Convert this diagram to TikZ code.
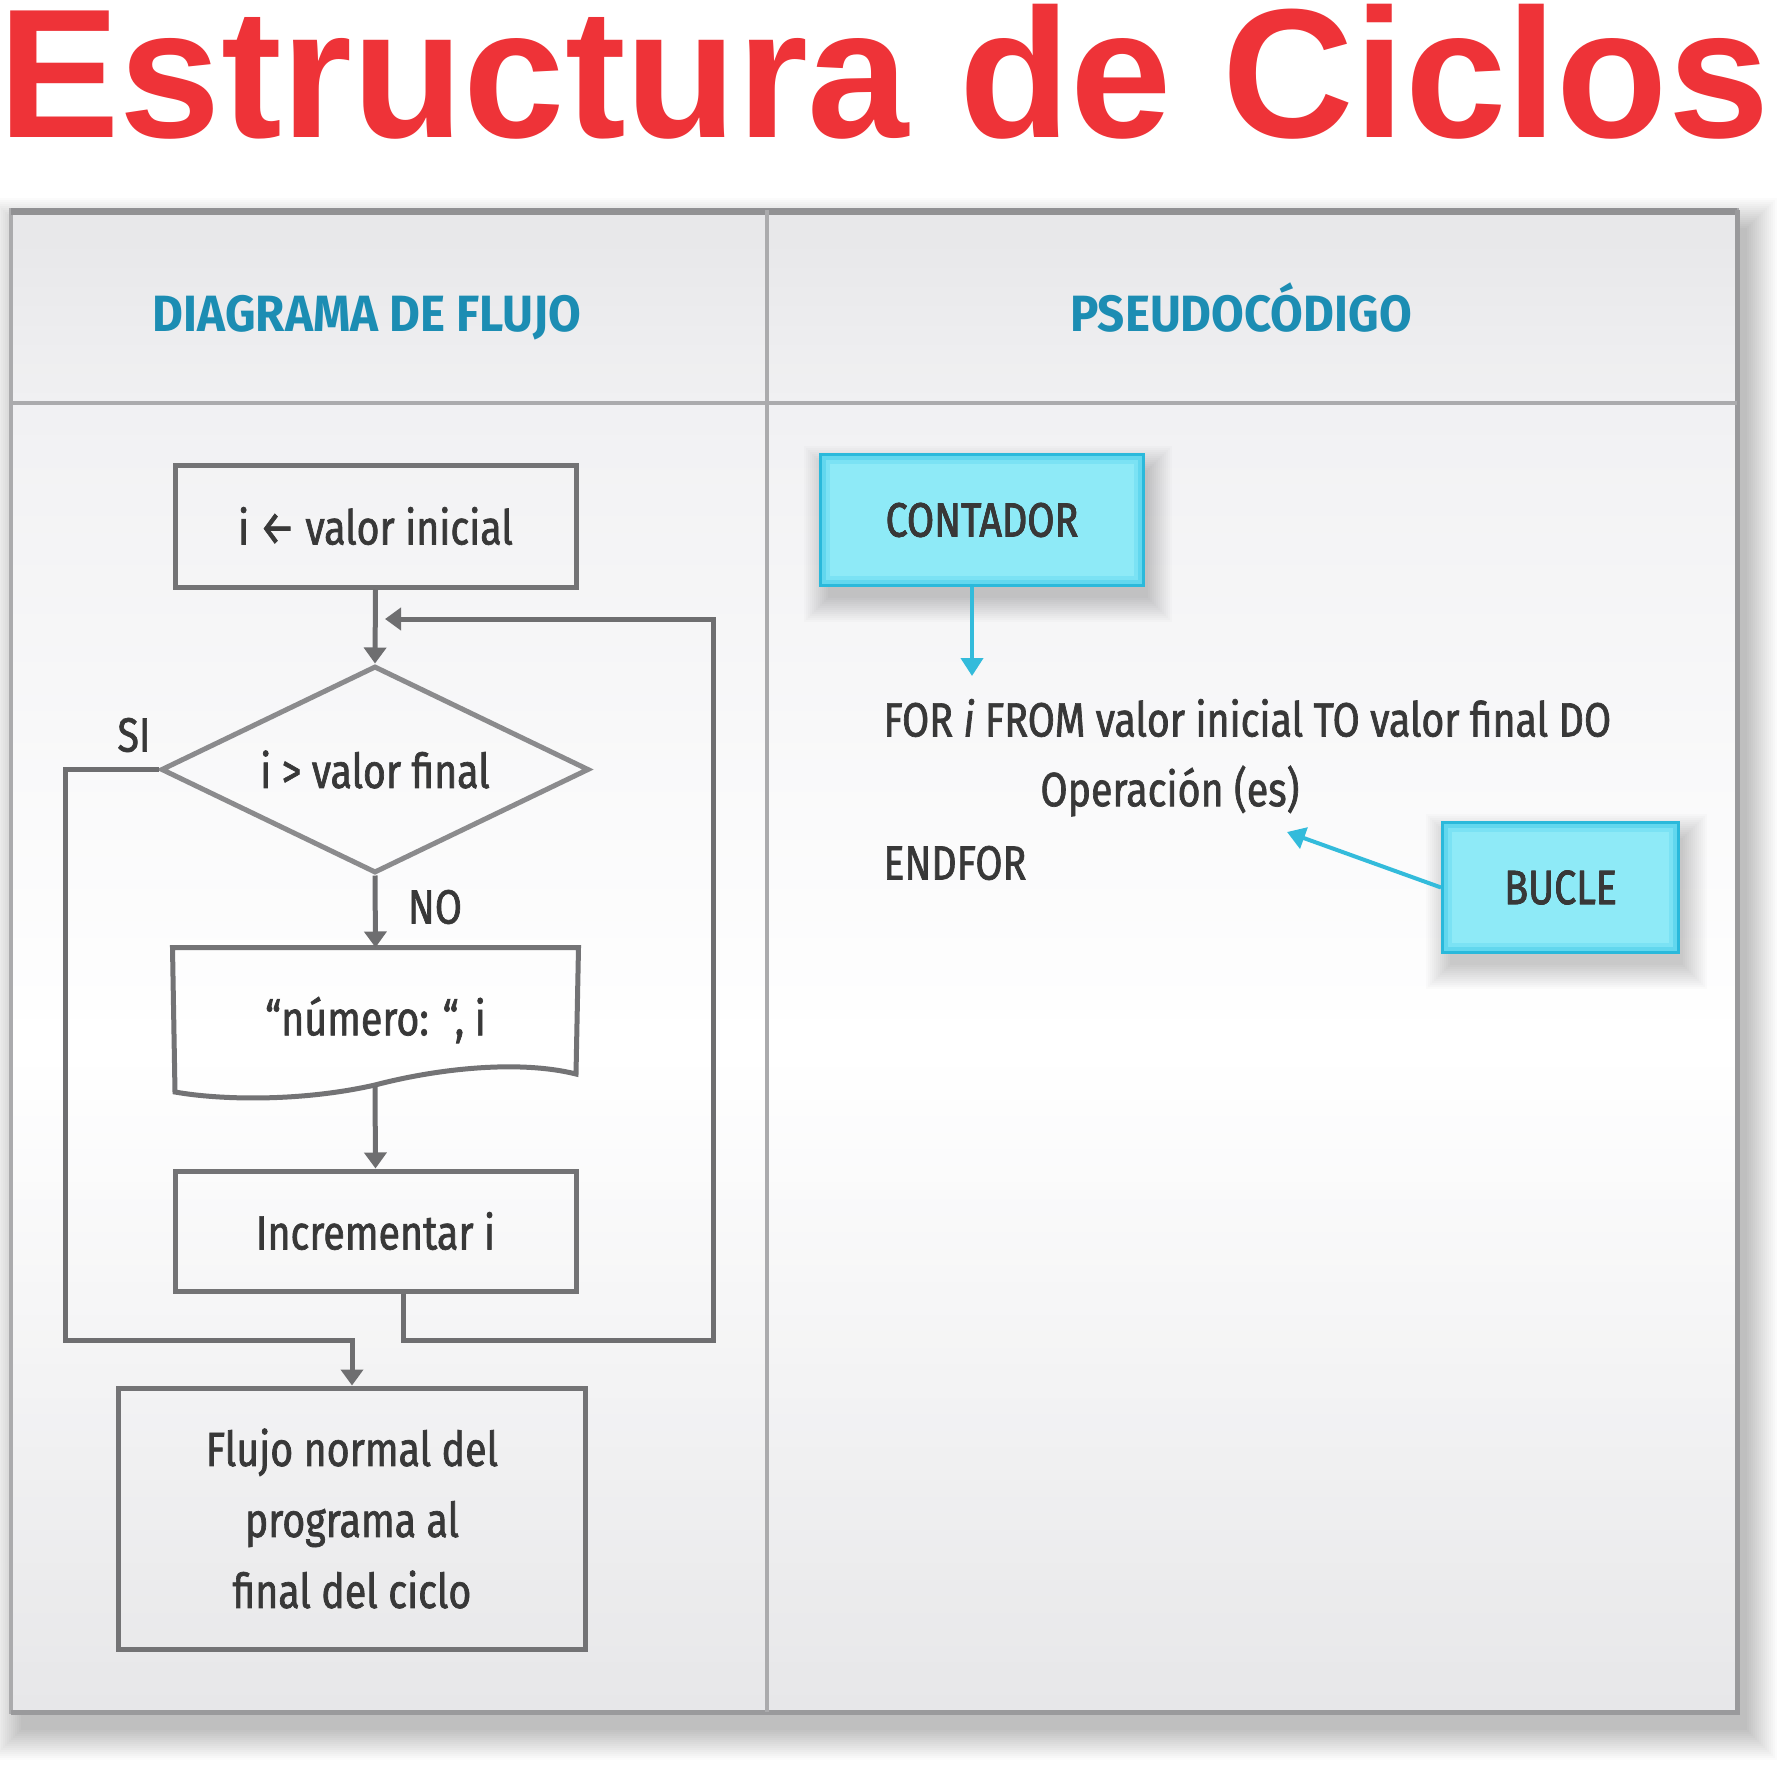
\documentclass[tikz,border=0pt]{standalone}
\usepackage{fontspec}
\setmainfont{Fira Sans}[FakeStretch=0.82,RawFeature={embolden=1.4}]
\newfontfamily\hdrfont{Fira Sans}[FakeStretch=0.93]
\newfontfamily\titlefont{Liberation Sans}
\usetikzlibrary{arrows.meta,shapes.geometric}
\definecolor{titlered}{HTML}{EE3338}
\definecolor{hdrteal}{HTML}{1C8DB3}
\definecolor{lineg}{HTML}{6E6E70}
\definecolor{boxg}{HTML}{737375}
\definecolor{txtg}{HTML}{383838}
\definecolor{cyanfill}{HTML}{8EEAF7}
\definecolor{cyanmid}{HTML}{62D7EE}
\definecolor{cyanlite}{HTML}{7BE2F4}
\definecolor{cyanedge}{HTML}{2AB9DB}
\definecolor{cyanarrow}{HTML}{33BBDB}
\definecolor{frameg}{HTML}{ABABAD}
\definecolor{hdrtop}{HTML}{E7E7E9}
\definecolor{hdrbot}{HTML}{F0F0F2}
\definecolor{bodytop}{HTML}{F1F1F3}
\definecolor{bodybot}{HTML}{E7E7E9}
\newcommand\softshad[8]{%
  \foreach \g in {0,2,...,#7}{\fill[black,opacity=#8] ({#1+#5-\g},{#2+#6-\g}) rectangle ({#3+#5+\g},{#4+#6+\g});}}
\begin{document}
\begin{tikzpicture}[x=0.5pt,y=-0.5pt,
  flow/.style={draw=lineg,line width=2.5pt,-{Triangle[width=11pt,length=8pt]}},
  carrow/.style={draw=cyanarrow,line width=2pt,-{Triangle[width=11pt,length=9pt]}},
  fbox/.style={draw=boxg,line width=2.5pt,rectangle,inner sep=0pt,text=txtg,font=\fontsize{24pt}{35.5pt}\selectfont,align=center},
  cbox/.style={draw=cyanedge,fill=cyanfill,line width=3pt,rectangle,inner sep=0pt,text=txtg,font=\fontsize{24pt}{30pt}\selectfont},
  lbl/.style={inner sep=0pt,text=txtg,font=\fontsize{24pt}{30pt}\selectfont},
  hdr/.style={inner sep=0pt,anchor=base,text=hdrteal,font=\hdrfont\fontsize{25.5pt}{30pt}\selectfont\bfseries}]
\useasboundingbox (0,0) rectangle (1780,1781);
\fill[white] (0,0) rectangle (1780,1781);
% title
\node[anchor=base,inner sep=0pt,text=titlered,font=\titlefont\bfseries\fontsize{92pt}{92pt}\selectfont,xscale=0.99] (title) at (884,138) {Estructura de Ciclos};
% panel shadow and background
\softshad{11}{210}{1737}{1712}{10}{18}{30}{0.014}
\foreach \i in {0,...,19}{
  \pgfmathsetmacro\ya{210+\i*9.65}\pgfmathsetmacro\p{100*\i/19}
  \fill[hdrbot!\p!hdrtop] (11,\ya) rectangle (1737,{\ya+10.5});}
\foreach \i in {0,...,39}{
  \pgfmathsetmacro\ya{403+\i*16.2}\pgfmathsetmacro\p{100*\i/39}
  \fill[white!\p!bodytop] (11,\ya) rectangle (1737,{\ya+17});}
\foreach \i in {0,...,39}{
  \pgfmathsetmacro\ya{1050+\i*16.55}\pgfmathsetmacro\yb{min(\ya+17,1712)}\pgfmathsetmacro\p{100*\i/39}
  \fill[bodybot!\p!white] (11,\ya) rectangle (1737,\yb);}
\draw[frameg,line width=2pt] (11,210) rectangle (1737,1712);
\draw[frameg!85!black,line width=3.5pt] (11,212) -- (1737,212);
\draw[frameg!90!black,line width=2.5pt] (11,1712) -- (1737,1712) -- (1737,210);
\draw[frameg,line width=2pt] (11,403) -- (1737,403);
\draw[frameg,line width=2pt] (767,210) -- (767,1712);
\node[hdr] (h1) at (367,332) {DIAGRAMA DE FLUJO};
\node[hdr] (h2) at (1241,332) {PSEUDOCÓDIGO};
% flowchart
\node[fbox,minimum width=200.5pt,minimum height=61pt] (b1) at (375.5,526) {i ← valor inicial};
\node[fbox,draw=lineg!80!white,shape=diamond,aspect=2.07,minimum width=214pt,minimum height=103.5pt] (dia) at (375,769.5) {i > valor final};
\node[fbox,draw=none,minimum width=200.5pt,minimum height=70pt] (b3) at (375.5,1020) {“número: “, i};
\draw[boxg,line width=2.5pt,line join=miter] (b3.north west) -- (b3.north east) -- (576,1074)
  .. controls (520,1060) and (440,1068) .. (375,1085)
  .. controls (300,1102) and (220,1100) .. (175,1092) -- cycle;
\coordinate (w3) at (375,1086);
\node[fbox,minimum width=200.5pt,minimum height=60pt] (b4) at (375.5,1231) {Incrementar i};
\node[fbox,minimum width=233.5pt,minimum height=130.5pt] (b5) at (352,1518.5) {Flujo normal del\\programa al\\final del ciclo};
\node[lbl] (si) at (134,735) {SI};
\node[lbl] (no) at (435,907) {NO};
\coordinate (lp) at (385,619);
\coordinate (rc) at (713,1340);
\coordinate (sl) at (65,1340);
\draw[flow] (b1.south) -- (dia.north);
\draw[flow] (dia.south) -- (b3.north);
\draw[flow] (w3) -- (b4.north);
\draw[flow] ([xshift=14pt]b4.south) |- (rc) |- (lp);
\draw[flow] (dia.west) -| (sl) -| (b5.north);
% pseudocode
\softshad{822}{456}{1142}{584}{6}{14}{24}{0.014}
\softshad{1444}{824}{1677}{951}{6}{14}{24}{0.014}
\node[cbox,minimum width=160pt,minimum height=64pt] (cont) at (982,520) {CONTADOR};
\node[cbox,minimum width=116.5pt,minimum height=63.5pt] (buc) at (1560.5,887.5) {BUCLE};
\draw[cyanmid,line width=2pt] ([shift={(2.5pt,-2.5pt)}]cont.north west) rectangle ([shift={(-2.5pt,2.5pt)}]cont.south east);
\draw[cyanlite,line width=2pt] ([shift={(4.5pt,-4.5pt)}]cont.north west) rectangle ([shift={(-4.5pt,4.5pt)}]cont.south east);
\draw[cyanmid,line width=2pt] ([shift={(2.5pt,-2.5pt)}]buc.north west) rectangle ([shift={(-2.5pt,2.5pt)}]buc.south east);
\draw[cyanlite,line width=2pt] ([shift={(4.5pt,-4.5pt)}]buc.north west) rectangle ([shift={(-4.5pt,4.5pt)}]buc.south east);
\node[lbl] at (cont.center) {CONTADOR};
\node[lbl] at (buc.center) {BUCLE};
\node[lbl,anchor=west] (for) at (883,718) {FOR \textit{i} FROM valor inicial TO valor final DO};
\node[lbl,anchor=west] (op) at (1040,791) {Operación (es)};
\node[lbl,anchor=west] (endf) at (883,863) {ENDFOR};
\coordinate (fortop) at (972,676);
\coordinate (opend) at (1287,832);
\draw[carrow] ([xshift=-5pt]cont.south) -- (fortop);
\draw[carrow] (buc.west) -- (opend);
\end{tikzpicture}
\end{document}
